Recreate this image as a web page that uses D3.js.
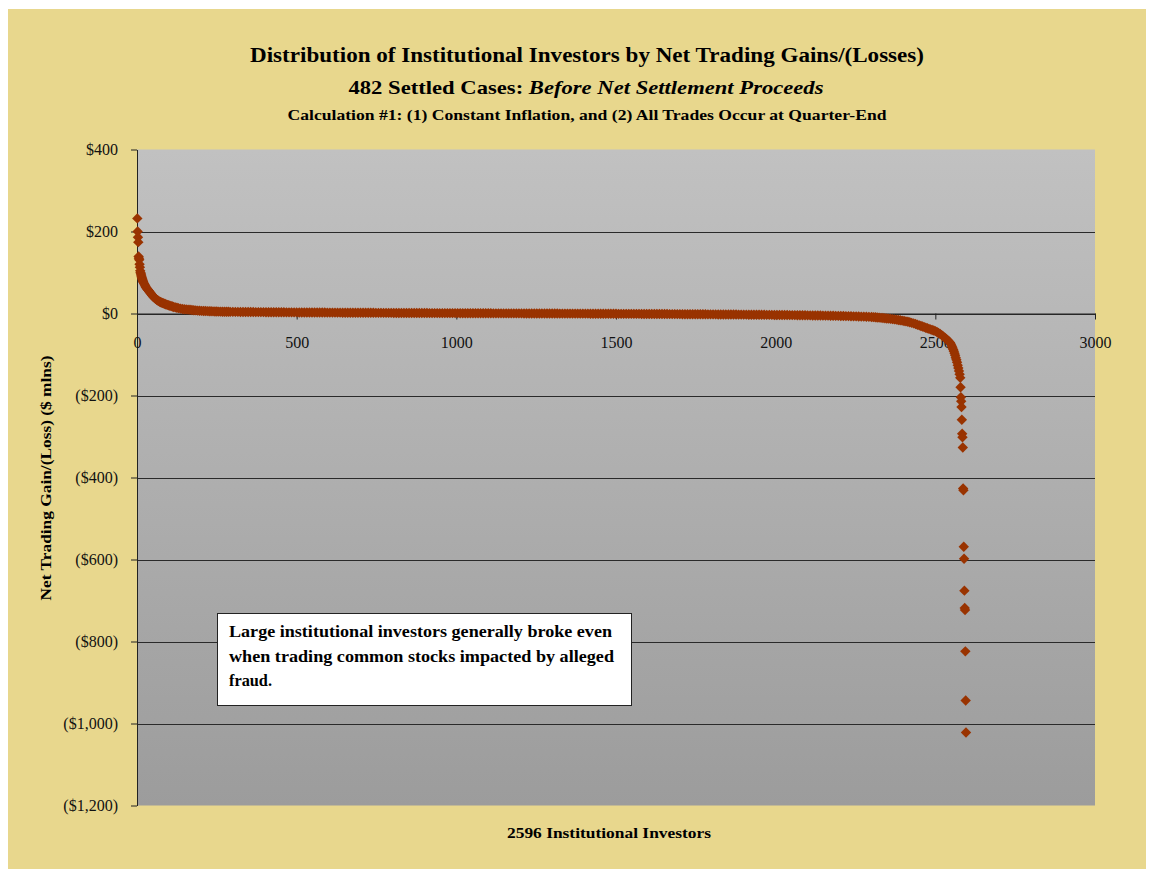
<!DOCTYPE html>
<html>
<head>
<meta charset="utf-8">
<script src="https://cdn.jsdelivr.net/npm/d3@7"></script>
<style>
  html, body { margin: 0; padding: 0; background: #ffffff; }
  svg { display: block; font-family: "Liberation Serif", "Times New Roman", serif; }
</style>
</head>
<body>
<svg id="chart" width="1151" height="869"></svg>
<script>
// ---- Data: net trading gain/(loss) per institutional investor, $ millions, ranked high to low ----

// Steep left end: individual investors by rank
const headRanks = [1, 2, 3, 4, 5, 6, 7, 8, 9, 10, 11, 12, 13, 14, 15, 16, 17, 18, 19, 20,
  22, 24, 26, 28, 30, 32, 34, 36, 38, 40, 42, 44, 46, 48, 50, 52, 55, 58, 61, 64,
  67, 70, 73, 76, 79, 82, 85, 88, 91, 95, 99, 103, 107, 111, 115, 120, 125, 130, 136, 142,
  148, 154, 160, 166, 172, 178, 184, 190, 196, 202, 208, 214, 220, 226, 232, 238, 244, 250, 256, 262,
  268, 274, 280, 286, 292];
const headGains = [232, 200, 186, 174, 139, 135, 131, 120, 113, 104, 100, 97, 94, 91, 88, 85, 83, 80, 78, 76,
  73, 70, 67, 64, 62, 60, 58, 56, 54, 52, 50, 48, 46, 44, 42, 40, 38, 36, 34, 32,
  31, 29, 28, 27, 26, 25, 24, 23, 22, 21, 20, 19, 18, 17, 16, 15, 14, 13, 12, 11,
  10.5, 10, 9.5, 9, 8.5, 8, 7.5, 7, 6.8, 6.5, 6.2, 6, 5.8, 5.6, 5.4, 5.2, 5, 4.8, 4.6, 4.5,
  4.4, 4.3, 4.2, 4.1, 4];

// Flat middle: every 8th investor from rank 300 to rank 2300
const bodyStart = 300, bodyStep = 8;
const bodyGains = [
  4.0, 3.9, 3.9, 3.8, 3.7, 3.7, 3.6, 3.5, 3.5, 3.4, 3.4, 3.3, 3.3, 3.2, 3.2, 3.1, 3.1, 3.0, 3.0, 2.9, 2.9, 2.8, 2.8, 2.8, 2.7,
  2.7, 2.6, 2.6, 2.6, 2.5, 2.5, 2.4, 2.4, 2.4, 2.3, 2.3, 2.3, 2.2, 2.2, 2.2, 2.1, 2.1, 2.1, 2.0, 2.0, 2.0, 1.9, 1.9, 1.9, 1.8,
  1.8, 1.8, 1.7, 1.7, 1.7, 1.7, 1.6, 1.6, 1.6, 1.5, 1.5, 1.5, 1.5, 1.4, 1.4, 1.4, 1.3, 1.3, 1.3, 1.3, 1.2, 1.2, 1.2, 1.1, 1.1,
  1.1, 1.1, 1.0, 1.0, 1.0, 1.0, 0.9, 0.9, 0.9, 0.9, 0.8, 0.8, 0.8, 0.8, 0.7, 0.7, 0.7, 0.7, 0.6, 0.6, 0.6, 0.6, 0.5, 0.5, 0.5,
  0.5, 0.5, 0.4, 0.4, 0.4, 0.4, 0.3, 0.3, 0.3, 0.3, 0.2, 0.2, 0.2, 0.2, 0.1, 0.1, 0.1, 0.1, 0.0, 0.0, 0.0, 0.0, 0.0, -0.1, -0.1,
  -0.1, -0.1, -0.1, -0.2, -0.2, -0.2, -0.2, -0.3, -0.3, -0.3, -0.3, -0.4, -0.4, -0.4, -0.4, -0.5, -0.5, -0.5, -0.5, -0.6, -0.6, -0.6, -0.7, -0.7, -0.7,
  -0.7, -0.8, -0.8, -0.8, -0.9, -0.9, -0.9, -1.0, -1.0, -1.0, -1.1, -1.1, -1.1, -1.2, -1.2, -1.2, -1.3, -1.3, -1.3, -1.4, -1.4, -1.5, -1.5, -1.5, -1.6,
  -1.6, -1.7, -1.7, -1.7, -1.8, -1.8, -1.9, -1.9, -1.9, -2.0, -2.0, -2.1, -2.1, -2.2, -2.2, -2.3, -2.3, -2.4, -2.4, -2.5, -2.5, -2.6, -2.6, -2.7, -2.7,
  -2.8, -2.8, -2.9, -2.9, -3.0, -3.0, -3.1, -3.1, -3.2, -3.3, -3.3, -3.4, -3.5, -3.5, -3.6, -3.7, -3.7, -3.8, -3.9, -4.0, -4.0, -4.1, -4.2, -4.3, -4.4,
  -4.5, -4.6, -4.7, -4.8, -4.9, -5.0, -5.1, -5.2, -5.3, -5.5, -5.6, -5.7, -5.9, -6.0, -6.2, -6.3, -6.5, -6.7, -6.9, -7.1, -7.3, -7.5, -7.7, -8.0, -8.2,
  -8.5
];

// Right end: the largest losses, by rank
const tailRanks = [2306, 2312, 2318, 2324, 2330, 2336, 2342, 2348, 2354, 2360, 2366, 2372, 2378, 2384, 2390, 2396, 2402, 2408, 2414, 2420,
  2426, 2432, 2438, 2444, 2450, 2455, 2460, 2465, 2470, 2475, 2480, 2485, 2490, 2495, 2500, 2505, 2510, 2515, 2520, 2525,
  2530, 2534, 2538, 2542, 2546, 2549, 2552, 2554, 2556, 2558, 2560, 2562, 2564, 2566, 2568, 2570, 2572, 2574, 2576, 2578,
  2579, 2580, 2581, 2582, 2583, 2584, 2585, 2586, 2587, 2588, 2589, 2590, 2591, 2592, 2593, 2594, 2595, 2596];
const tailGains = [-8.9, -9.3, -9.7, -10.1, -10.6, -11.1, -11.6, -12.1, -12.6, -13.2, -13.8, -14.4, -15, -15.7, -16.4, -17.3, -18.3, -19.3, -20.3, -21.4,
  -22.8, -24.2, -25.7, -27.3, -29, -30.4, -31.8, -33.2, -34.6, -36, -37.4, -38.8, -40.2, -41.6, -43, -45.3, -47.6, -50, -52.8, -55.8,
  -59, -61.8, -64.7, -67.8, -71, -75, -80, -84, -88, -92, -97, -102, -108, -113, -119, -126, -133, -140, -148, -157,
  -180, -204, -214, -228, -259, -293, -302, -327, -427, -431, -569, -598, -676, -718, -723, -824, -944, -1022];

// Axes
const yTicks = [400, 200, 0, -200, -400, -600, -800, -1000, -1200];
const xTicks = [0, 500, 1000, 1500, 2000, 2500, 3000];

// Text
const titleLine1 = "Distribution of Institutional Investors by Net Trading Gains/(Losses)";
const titleLine2a = "482 Settled Cases: ";
const titleLine2b = "Before Net Settlement Proceeds";
const titleLine3 = "Calculation #1: (1) Constant Inflation, and (2) All Trades Occur at Quarter-End";
const yTitle = "Net Trading Gain/(Loss) ($ mlns)";
const xTitle = "2596 Institutional Investors";
const noteLines = [
  "Large institutional investors generally broke even",
  "when trading common stocks impacted by alleged",
  "fraud."
];
const noteWidths = [383, 385, 43];

// ---- Build the point list ----
const points = [];
headRanks.forEach((r, i) => points.push({ rank: r, gain: headGains[i] }));
bodyGains.forEach((g, i) => points.push({ rank: bodyStart + i * bodyStep, gain: g }));
tailRanks.forEach((r, i) => points.push({ rank: r, gain: tailGains[i] }));

// ---- Layout ----
const svg = d3.select("#chart");
const plot = { left: 137, right: 1095, top: 149.5, bottom: 805.5 };

const x = d3.scaleLinear().domain([0, 3000]).range([plot.left, plot.right]);
const y = d3.scaleLinear().domain([-1200, 400]).range([plot.bottom, plot.top]);

// Chart frame
svg.append("rect")
  .attr("x", 8).attr("y", 9).attr("width", 1138).attr("height", 860)
  .attr("fill", "#e8d78d");

// Plot background gradient
const defs = svg.append("defs");
const grad = defs.append("linearGradient")
  .attr("id", "plotBg").attr("x1", 0).attr("y1", 0).attr("x2", 0).attr("y2", 1);
grad.append("stop").attr("offset", "0%").attr("stop-color", "#c1c1c1");
grad.append("stop").attr("offset", "100%").attr("stop-color", "#9c9c9c");

svg.append("rect")
  .attr("x", plot.left).attr("y", plot.top)
  .attr("width", plot.right - plot.left).attr("height", plot.bottom - plot.top)
  .attr("fill", "url(#plotBg)");

// Horizontal gridlines
svg.append("g")
  .selectAll("line")
  .data(yTicks.filter(v => v < 400 && v > -1200))
  .join("line")
  .attr("x1", plot.left).attr("x2", plot.right)
  .attr("y1", d => Math.round(y(d)) + 0.5).attr("y2", d => Math.round(y(d)) + 0.5)
  .attr("stroke", "#2a2a2a").attr("stroke-width", 1);

// Y axis
const fmtMoney = v => v === 0 ? "$0" : (v > 0 ? "$" + d3.format(",")(v) : "($" + d3.format(",")(-v) + ")");
const yAxis = svg.append("g")
  .attr("transform", `translate(${plot.left},0)`)
  .call(d3.axisLeft(y).tickValues(yTicks).tickFormat(fmtMoney).tickSize(6).tickSizeOuter(0).tickPadding(13));
yAxis.select(".domain").attr("stroke", "#222");
yAxis.selectAll(".tick line").attr("stroke", "#222");
yAxis.selectAll("text")
  .attr("font-family", "Liberation Serif, serif").attr("font-size", 16).attr("fill", "#111");

// X axis along the zero line
const xAxis = svg.append("g")
  .attr("transform", `translate(0,${y(0)})`)
  .call(d3.axisBottom(x).tickValues(xTicks).tickFormat(d3.format("d")).tickSize(6).tickSizeOuter(0).tickPadding(17));
xAxis.select(".domain").attr("stroke", "#222");
xAxis.selectAll(".tick line").attr("stroke", "#222");
xAxis.selectAll("text")
  .attr("font-family", "Liberation Serif, serif").attr("font-size", 16).attr("fill", "#111");

// Data markers (diamonds)
const half = 5.2;
const diamond = `M0,${-half}L${half},0L0,${half}L${-half},0Z`;
svg.append("g")
  .selectAll("path")
  .data(points)
  .join("path")
  .attr("d", diamond)
  .attr("transform", d => `translate(${x(d.rank)},${y(d.gain)})`)
  .attr("fill", "#993300");

// Titles
const titles = svg.append("g").attr("text-anchor", "middle").attr("fill", "#000").attr("font-weight", "bold");
titles.append("text").attr("x", 587).attr("y", 62).attr("font-size", 20)
  .attr("textLength", 674).attr("lengthAdjust", "spacingAndGlyphs").text(titleLine1);
const t2 = titles.append("text").attr("x", 586).attr("y", 94).attr("font-size", 19)
  .attr("textLength", 475).attr("lengthAdjust", "spacingAndGlyphs");
t2.append("tspan").text(titleLine2a);
t2.append("tspan").attr("font-style", "italic").text(titleLine2b);
titles.append("text").attr("x", 587).attr("y", 120).attr("font-size", 15)
  .attr("textLength", 599).attr("lengthAdjust", "spacingAndGlyphs").text(titleLine3);

// Axis titles
svg.append("text")
  .attr("transform", "translate(51,478) rotate(-90)")
  .attr("text-anchor", "middle").attr("font-weight", "bold").attr("font-size", 15)
  .attr("textLength", 245).attr("lengthAdjust", "spacingAndGlyphs")
  .text(yTitle);
svg.append("text")
  .attr("x", 609).attr("y", 838)
  .attr("text-anchor", "middle").attr("font-weight", "bold").attr("font-size", 15)
  .attr("textLength", 204).attr("lengthAdjust", "spacingAndGlyphs")
  .text(xTitle);

// Annotation box
const note = svg.append("g");
note.append("rect")
  .attr("x", 217.5).attr("y", 613.5).attr("width", 414).attr("height", 92)
  .attr("fill", "#ffffff").attr("stroke", "#222").attr("stroke-width", 1);
note.selectAll("text")
  .data(noteLines)
  .join("text")
  .attr("x", 229).attr("y", (d, i) => 637 + i * 24.5)
  .attr("font-weight", "bold").attr("font-size", 17).attr("fill", "#000")
  .attr("textLength", (d, i) => noteWidths[i]).attr("lengthAdjust", "spacingAndGlyphs")
  .text(d => d);
</script>
</body>
</html>
